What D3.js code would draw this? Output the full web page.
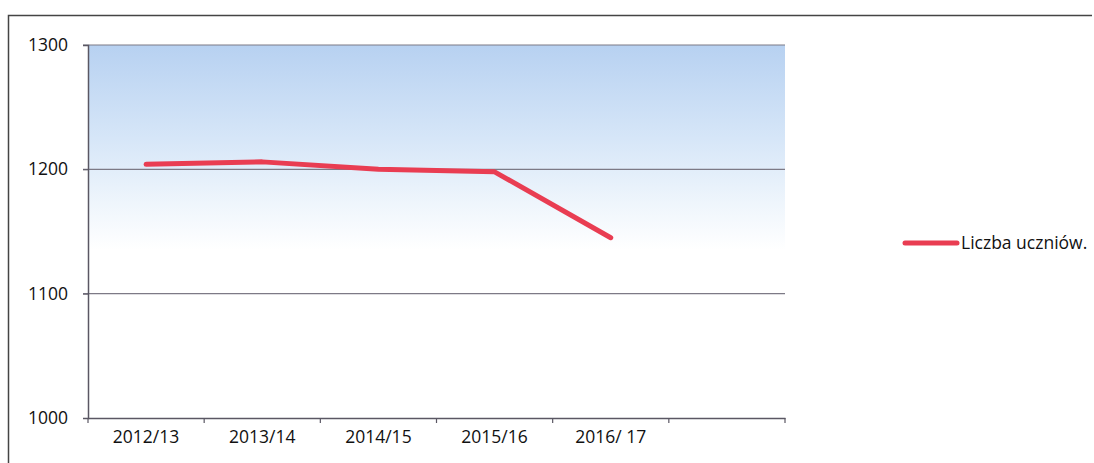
<!DOCTYPE html>
<html><head><meta charset="utf-8">
<script src="https://cdn.jsdelivr.net/npm/d3@7"></script>
<style>body{margin:0;background:#fff}svg{display:block}</style>
</head><body>
<svg id="c" width="1094" height="463"></svg>
<script>
const categories = ["2012/13","2013/14","2014/15","2015/16","2016/ 17",""];
const values = [1204, 1206, 1200, 1198, 1145];
const yTicks = [1000, 1100, 1200, 1300];
const seriesName = "Liczba uczniów.";

const svg = d3.select("#c");
const L = 88, R = 785, T = 45, B = 418;
const x = d3.scaleBand().domain(categories).range([L, R]);
const y = d3.scaleLinear().domain([1000, 1300]).range([B, T]);
const font = "'Open Sans', 'Liberation Sans', sans-serif";
const fs = 17.5;

// outer frame
svg.append("path").attr("d", "M8.5,463 L8.5,15.5 L1092,15.5").attr("fill","none").attr("stroke","#444").attr("stroke-width",1.5);

const defs = svg.append("defs");
const g = defs.append("linearGradient").attr("id","bg").attr("x1",0).attr("y1",0).attr("x2",0).attr("y2",1);
g.append("stop").attr("offset","0%").attr("stop-color","#b7d1f1");
g.append("stop").attr("offset","25%").attr("stop-color","#d6e6f8");
g.append("stop").attr("offset","42%").attr("stop-color","#eef5fc");
g.append("stop").attr("offset","55%").attr("stop-color","#ffffff");
g.append("stop").attr("offset","100%").attr("stop-color","#ffffff");
svg.append("rect").attr("x",L).attr("y",T).attr("width",R-L).attr("height",B-T).attr("fill","url(#bg)");

// gridlines
svg.append("g").selectAll("line").data(yTicks.filter(d=>d>1000)).join("line")
  .attr("x1",L-5).attr("x2",R).attr("y1",d=>y(d)).attr("y2",d=>y(d))
  .attr("stroke","#7d7a86").attr("stroke-width",1.2);

// y axis
const ya = svg.append("g").attr("transform",`translate(${L},0)`)
  .call(d3.axisLeft(y).tickValues(yTicks).tickSize(5).tickPadding(15).tickFormat(d3.format("d")));
ya.select(".domain").attr("stroke","#5a5763").attr("stroke-width",1.5);
ya.selectAll(".tick line").attr("stroke","#5a5763");
ya.selectAll("text").attr("font-family",font).attr("font-size",fs).attr("fill","#111");

// x axis
const xa = svg.append("g").attr("transform",`translate(0,${B})`)
  .call(d3.axisBottom(x).tickSize(0).tickPadding(13));
xa.select(".domain").attr("stroke","#5a5763").attr("stroke-width",1.5);
xa.selectAll("text").attr("font-family",font).attr("font-size",fs).attr("fill","#111");
const bounds = categories.map(c=>x(c)).concat([R]);
xa.selectAll(".bt").data(bounds).join("line").attr("class","bt")
  .attr("x1",d=>d).attr("x2",d=>d).attr("y1",0).attr("y2",5).attr("stroke","#5a5763").attr("stroke-width",1.2);

// line
const pts = values.map((v,i)=>[x(categories[i])+x.bandwidth()/2, y(v)]);
svg.append("path").attr("d", d3.line()(pts)).attr("fill","none")
  .attr("stroke","#e93d52").attr("stroke-width",5).attr("stroke-linecap","round").attr("stroke-linejoin","round");

// legend
svg.append("line").attr("x1",905).attr("x2",957).attr("y1",243).attr("y2",243)
  .attr("stroke","#e93d52").attr("stroke-width",5).attr("stroke-linecap","round");
svg.append("text").attr("x",961).attr("y",249).text(seriesName)
  .attr("font-family",font).attr("font-size",fs).attr("fill","#111");
</script>
</body></html>
